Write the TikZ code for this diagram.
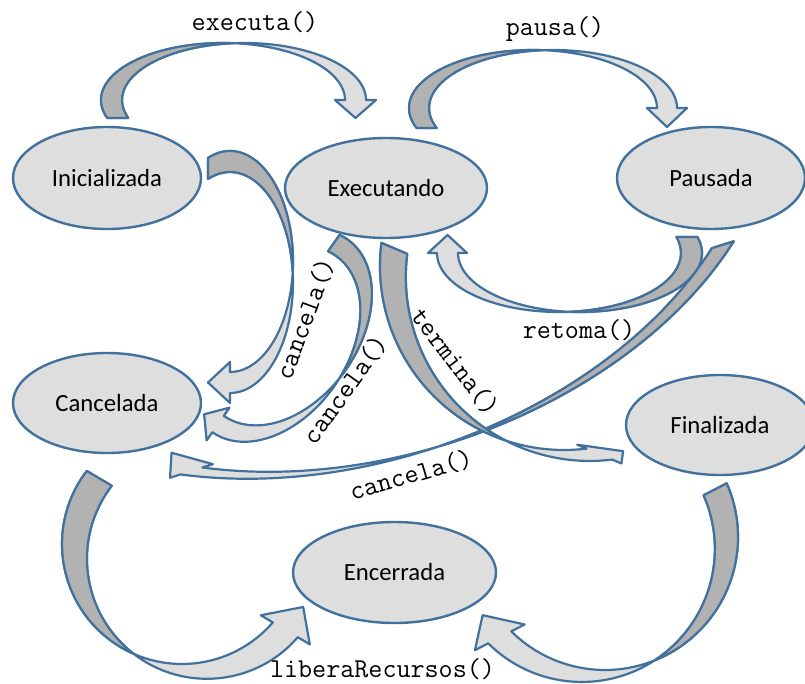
\documentclass[tikz,border=0pt]{standalone}
\usepackage{fontspec}
\setmainfont{Carlito}
\usetikzlibrary{shapes.geometric}
\definecolor{edgeblue}{RGB}{65,113,156}
\definecolor{lightgr}{RGB}{222,222,222}
\definecolor{darkgr}{RGB}{178,178,178}
\pgfkeys{/ca/.is family,
  /ca/rx/.store in=\caRx, /ca/ry/.store in=\caRy, /ca/w/.store in=\caW,
  /ca/tt/.store in=\caTt, /ca/tte/.store in=\caTte, /ca/th/.store in=\caTh,
  /ca/hw/.store in=\caHw, /ca/hl/.store in=\caHl, /ca/tip/.store in=\caTip}
\def\canone{none}
\newcommand\carrow[2]{%
  \pgfkeys{/ca/.cd, rx=100, ry=50, w=20, tt=180, tte=none, th=360, hw=10, hl=18, tip=90, #2}%
  \ifx\caTte\canone\let\caTte\caTt\fi
  \pgfmathsetmacro\caC{acos(\caW/(2*\caRx))}%
  \pgfmathsetmacro\caA{360-\caC}%
  \pgfmathsetmacro\caB{180+\caC}%
  \pgfmathsetmacro\caHx{\caRx*cos(\caTh)}%
  \pgfmathsetmacro\caHy{\caRy*sin(\caTh)}%
  \pgfmathsetmacro\caPx{\caHx+\caW/2+\caHl*cos(\caTip)}%
  \pgfmathsetmacro\caPy{\caHy+\caHl*sin(\caTip)}%
  \pgfmathsetmacro\caSx{\caRx*cos(\caTt)}%
  \pgfmathsetmacro\caSy{\caRy*sin(\caTt)}%
  \pgfmathsetmacro\caLx{\caHx-\caHw}%
  \pgfmathsetmacro\caRxx{\caHx+\caW+\caHw}%
  \pgfmathsetmacro\caEx{\caHx+\caW}%
  \begin{scope}[#1]
    \path[arrfront] (\caSx,\caSy)
      arc[start angle=\caTt, end angle=\caTh, x radius=\caRx, y radius=\caRy]
      -- (\caLx,\caHy) -- (\caPx,\caPy) -- (\caRxx,\caHy) -- (\caEx,\caHy)
      arc[start angle=\caTh, end angle=\caTte, x radius=\caRx, y radius=\caRy] -- cycle;
    \path[arrback] (\caSx,\caSy)
      arc[start angle=\caTt, end angle=\caA, x radius=\caRx, y radius=\caRy]
      arc[start angle=\caB, end angle=\caTte, x radius=\caRx, y radius=\caRy] -- cycle;
  \end{scope}}
\tikzset{
  state/.style={ellipse, draw=edgeblue, line width=2.4bp, fill=lightgr, inner sep=0pt,
    font=\fontsize{24.8pt}{28pt}\selectfont},
  arrfront/.style={fill=lightgr, draw=edgeblue, line width=2.2bp, line join=round},
  arrback/.style={fill=darkgr, draw=edgeblue, line width=2.2bp, line join=round},
  lbl/.style={font=\ttfamily\fontsize{27.4pt}{30pt}\selectfont, inner sep=0pt}
}
\begin{document}
\begin{tikzpicture}[x=1bp,y=-1bp]
\useasboundingbox[fill=white] (0,0) rectangle (805,684);
% states
\node[state, minimum width=188bp, minimum height=102bp] (ini) at (107,178) {Inicializada};
\node[state, minimum width=202bp, minimum height=100bp] (exe) at (386,188) {Executando};
\node[state, minimum width=188bp, minimum height=102bp] (pau) at (711,178) {Pausada};
\node[state, minimum width=188bp, minimum height=100bp] (can) at (107,403) {Cancelada};
\node[state, minimum width=188bp, minimum height=100bp] (fin) at (720,425) {Finalizada};
\node[state, minimum width=203bp, minimum height=101bp] (enc) at (394.5,572.5) {Encerrada};
% curved block arrows
\carrow{shift={(223,100)}}{rx=122, ry=57, w=21, tt=161.6, hw=10, hl=18}
\carrow{shift={(533,108)}}{rx=124, ry=58, w=20, tt=159.8, hw=10, hl=19}
\carrow{shift={(580,253)}, rotate=180}{rx=122, ry=59, w=21, tt=164.3, hw=9, hl=18}
\carrow{shift={(230,261.5)}, rotate=-90}{rx=110.5, ry=63, w=21, tt=159.6, hw=10, hl=22}
\carrow{shift={(285.6,327.6)}, rotate=-125}{rx=107.7, ry=73.5, w=20, tt=173, hw=10, hl=17}
\carrow{shift={(366.7,178.8)}, rotate=-162.4}{rx=420, ry=277, w=23, tt=218, th=305.5, hw=11, hl=27, tip=60}
\carrow{shift={(564,266)}, rotate=-203, xscale=-1}{rx=184, ry=184, w=28, tt=195.8, th=300, hw=10, hl=24, tip=30}
\carrow{shift={(182,544)}, rotate=-210.7, xscale=-1}{rx=120, ry=120, w=29, tt=173.2, th=349.9, hw=14, hl=29, tip=82.6}
\carrow{shift={(605,537)}, rotate=-152.6}{rx=133, ry=133, w=26, tt=183.6, th=342.2, hw=15, hl=28, tip=79.7}
% labels
\node[lbl] (lexec) at (255,22) {executa()};
\node[lbl] (lpausa) at (555,29) {pausa()};
\node[lbl] (lret) at (579,330) {retoma()};
\node[lbl] (llib) at (382.5,669) {liberaRecursos()};
\node[lbl, rotate=69.7] (lcanA) at (305,319) {cancela()};
\node[lbl, rotate=54.4] (lcanB) at (345,390) {cancela()};
\node[lbl, rotate=-52.6] (lterm) at (455,362) {termina()};
\node[lbl, rotate=16.3] (lcanC) at (411,475) {cancela()};
\end{tikzpicture}
\end{document}
